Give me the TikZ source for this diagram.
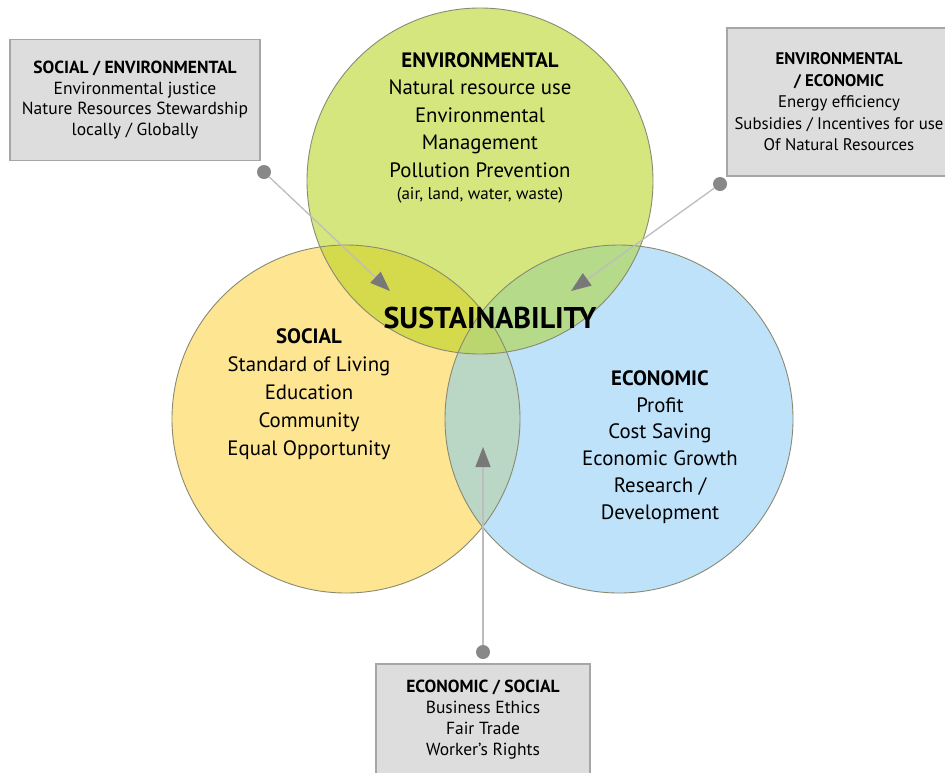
\documentclass[tikz,border=0pt]{standalone}
\usepackage{fontspec}
\setmainfont{PT Sans}
\usetikzlibrary{arrows.meta, positioning}

\definecolor{envgreen}{HTML}{D5E67E}
\definecolor{socyellow}{HTML}{FDE592}
\definecolor{ecoblue}{HTML}{BFE2FB}
\definecolor{envsoc}{HTML}{D5D94C}
\definecolor{enveco}{HTML}{B4DA8A}
\definecolor{soceco}{HTML}{BAD6C4}
\definecolor{allthree}{HTML}{BCD66F}
\definecolor{ringline}{HTML}{8A8A72}
\definecolor{boxgray}{HTML}{DDDDDD}
\definecolor{pingray}{HTML}{888888}
\definecolor{linegray}{HTML}{BDBDBD}
\definecolor{tipgray}{HTML}{787878}

\begin{document}
\begin{tikzpicture}[x=1pt, y=-1pt,
    ring/.style={draw=ringline, line width=0.9pt},
    ringtext/.style={align=center, inner sep=0pt, font=\fontsize{20.8}{27.5}\selectfont},
    infobox/.style={draw=black!35, fill=boxgray, line width=1.2pt, align=center, inner sep=0pt, font=\fontsize{17.5}{20.8}\selectfont},
    pin/.style={circle, fill=pingray, minimum size=14pt, inner sep=0pt},
    pointer/.style={draw=linegray, line width=1.3pt, -{Triangle[length=20pt, width=15pt, color=tipgray]}}]
    \useasboundingbox (0,0) rectangle (945,772);
    \fill[white] (0,0) rectangle (945,772);

    % The three circles
    \def\envring{(480,181) circle[radius=173]}
    \def\socring{(346,419) circle[radius=174]}
    \def\ecoring{(619,419) circle[radius=174]}
    \fill[envgreen] \envring;
    \fill[socyellow] \socring;
    \fill[ecoblue] \ecoring;

    % Overlaps
    \begin{scope}
        \clip \envring;
        \fill[envsoc] \socring;
        \fill[enveco] \ecoring;
    \end{scope}
    \begin{scope}
        \clip \socring;
        \fill[soceco] \ecoring;
        \clip \ecoring;
        \fill[allthree] \envring;
    \end{scope}
    \draw[ring] \envring;
    \draw[ring] \socring;
    \draw[ring] \ecoring;

    % Boxes
    \node[infobox, minimum width=250pt, minimum height=121pt] (socenv) at (135,100)
        {\textbf{SOCIAL / ENVIRONMENTAL}\\Environmental justice\\Nature Resources Stewardship\\locally / Globally};
    \node[infobox, minimum width=230pt, minimum height=148pt] (enveco) at (842,102) {};
    \node[align=center, inner sep=0pt, font=\fontsize{16.8}{21.5}\selectfont] (envecotext) at (839,102)
        {\textbf{ENVIRONMENTAL}\\\textbf{/ ECONOMIC}\\Energy efficiency\\Subsidies / Incentives for use\\Of Natural Resources};
    \node[infobox, minimum width=214pt, minimum height=112pt, font=\fontsize{17.5}{21}\selectfont] (ecosoc) at (483,720)
        {\textbf{ECONOMIC / SOCIAL}\\Business Ethics\\Fair Trade\\Worker's Rights};

    % Pointers
    \node[pin] (sepin) at (264,172) {};
    \node[pin] (eepin) at (720,184) {};
    \node[pin] (espin) at (483,652) {};
    \coordinate (setip) at (390,291);
    \coordinate (eetip) at (571,291);
    \coordinate (estip) at (483,447);
    \draw[pointer] (sepin) -- (setip);
    \draw[pointer] (eepin) -- (eetip);
    \draw[pointer] (espin) -- (estip);

    % Circle texts
    \node[ringtext] (env) at (480,115)
        {\textbf{ENVIRONMENTAL}\\Natural resource use\\Environmental\\Management\\Pollution Prevention};
    \node[font=\fontsize{17}{18}\selectfont, inner sep=0pt, below=9pt of env] (envnote) {(air, land, water, waste)};
    \node[ringtext, font=\fontsize{20.8}{28}\selectfont] (soc) at (309,394)
        {\textbf{SOCIAL}\\Standard of Living\\Education\\Community\\Equal Opportunity};
    \node[ringtext, font=\fontsize{20.8}{26.8}\selectfont] (eco) at (660,447)
        {\textbf{ECONOMIC}\\Profit\\Cost Saving\\Economic Growth\\Research /\\Development};
    \node[font=\bfseries\fontsize{30}{30}\selectfont, inner sep=0pt] (sus) at (490,318) {SUSTAINABILITY};
\end{tikzpicture}
\end{document}
